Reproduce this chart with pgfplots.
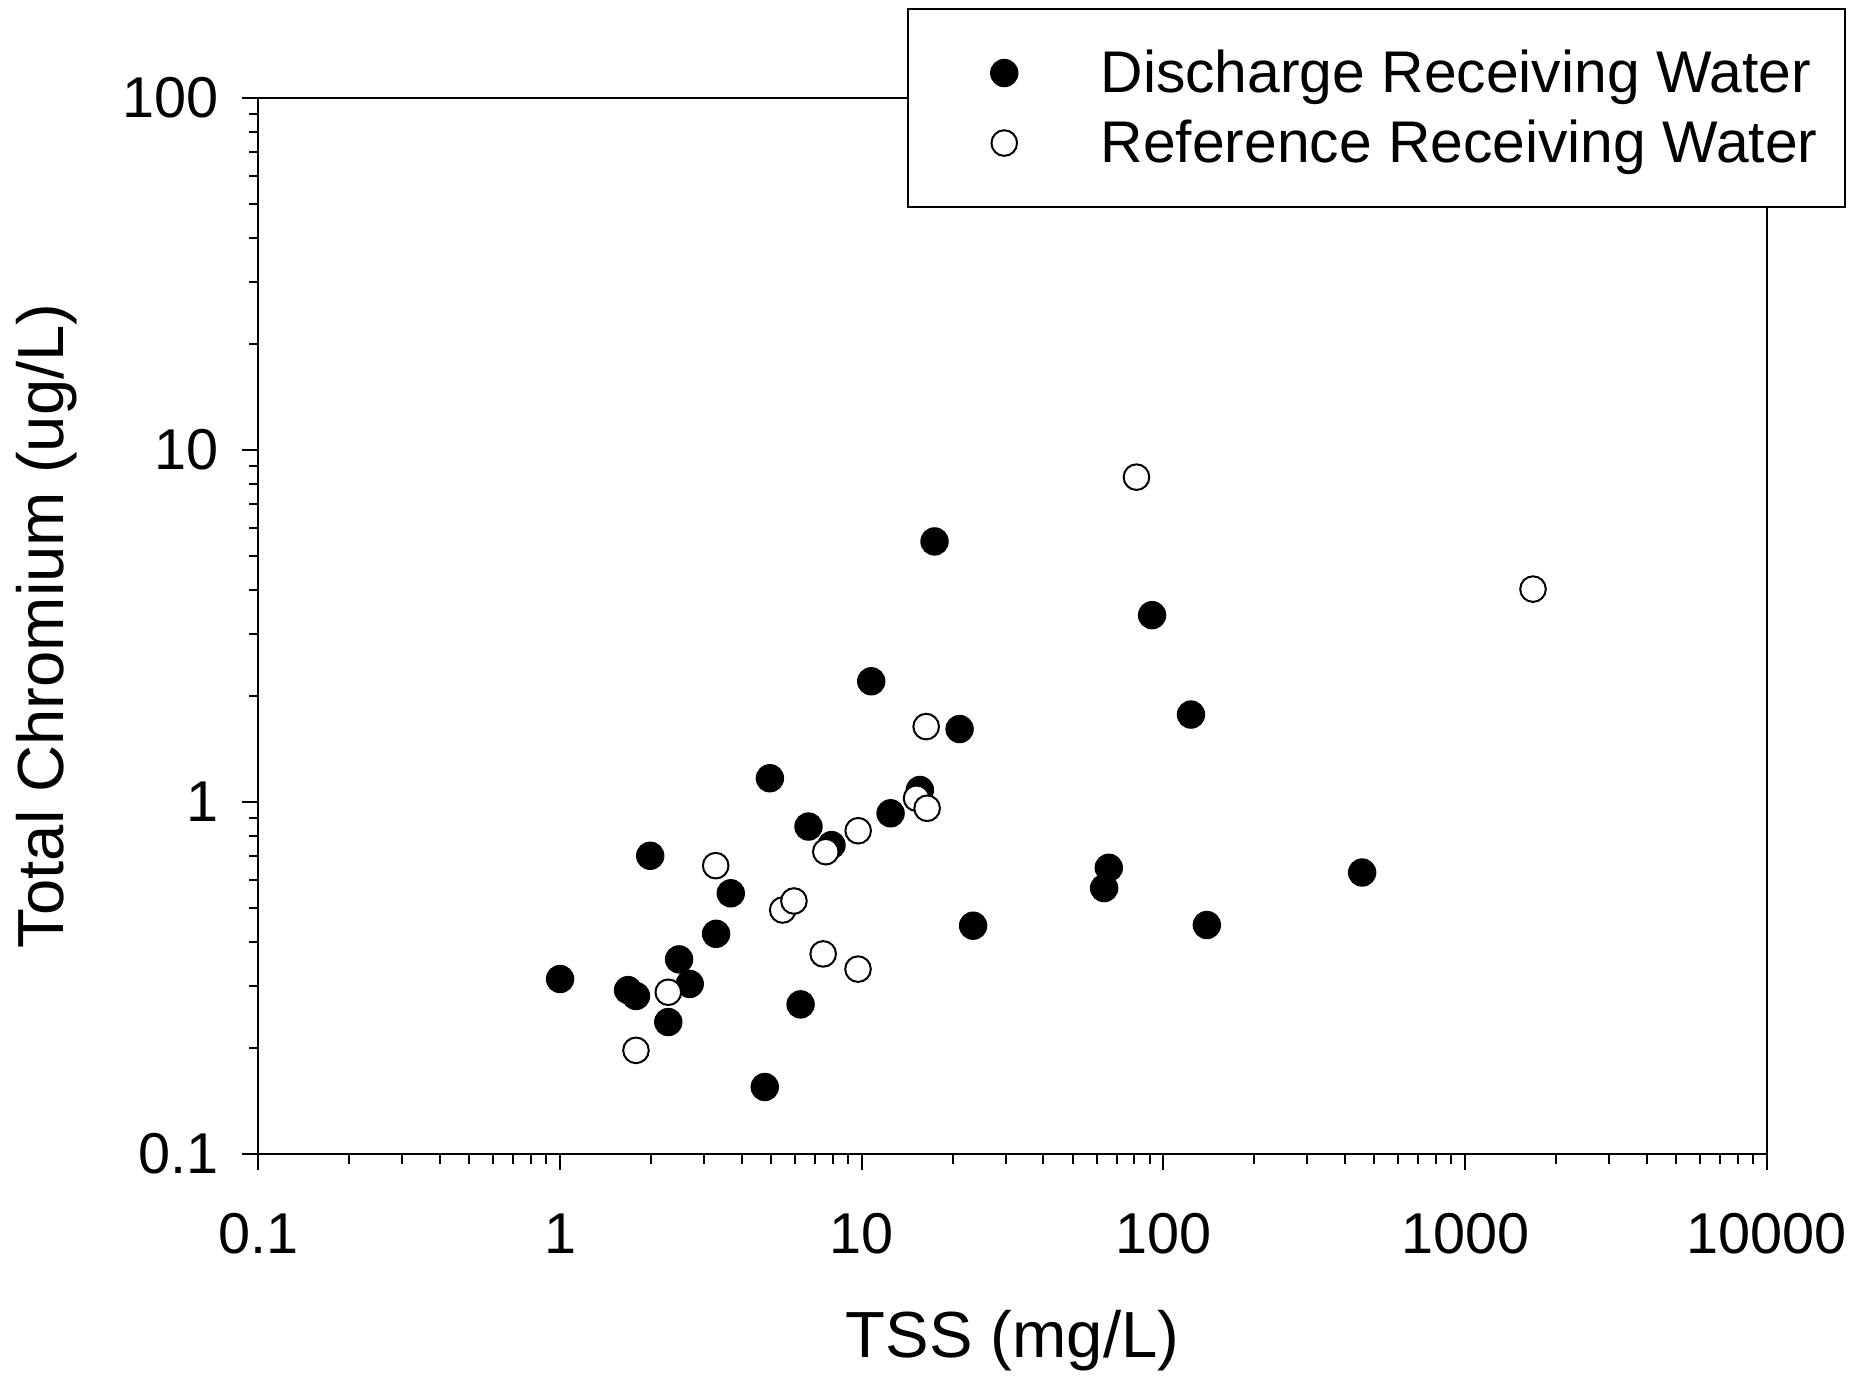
\documentclass[border=0pt]{standalone}
\usepackage{fontspec}
\setmainfont{Liberation Sans}
\usepackage{pgfplots}
\pgfplotsset{compat=1.18}
\begin{document}
\begin{tikzpicture}
\useasboundingbox (0,0) rectangle (468.5pt,345pt);
\begin{axis}[
  at={(64.6pt,56.5pt)}, anchor=south west,
  scale only axis, width=377.1pt, height=264.1pt,
  xmode=log, ymode=log,
  xmin=0.1, xmax=10000, ymin=0.1, ymax=100,
  xtick={0.1,1,10,100,1000,10000},
  xticklabels={0.1,1,10,100,1000,10000},
  ytick={0.1,1,10,100},
  yticklabels={0.1,1,10,100},
  minor xtick={0.2,0.3,0.4,0.5,0.6,0.7,0.8,0.9,2,3,4,5,6,7,8,9,20,30,40,50,60,70,80,90,200,300,400,500,600,700,800,900,2000,3000,4000,5000,6000,7000,8000,9000},
  minor ytick={0.2,0.3,0.4,0.5,0.6,0.7,0.8,0.9,2,3,4,5,6,7,8,9,20,30,40,50,60,70,80,90},
  xtick pos=left, ytick pos=left,
  tick align=outside,
  major tick length=4pt, minor tick length=2.4pt,
  axis line style={line width=0.5pt},
  every tick/.style={black, line width=0.5pt},
  /pgf/number format/assume math mode=true,
  tick label style={font=\fontsize{14.4}{17}\selectfont},
  xticklabel style={anchor=base, yshift=-21pt},
  yticklabel style={anchor=east, inner xsep=0pt, xshift=-5.8pt},
  xlabel={TSS (mg/L)},
  ylabel={Total Chromium (ug/L)},
  label style={font=\fontsize{16.3}{19}\selectfont},
  xlabel style={at={(axis description cs:0.5,-0.1922)}, anchor=base},
  ylabel style={at={(axis description cs:-0.1295,0.5)}, anchor=base, rotate=0},
  legend cell align=left,
  legend style={at={(axis description cs:0.4299,1.0844)}, anchor=north west,
    draw=black, line width=0.5pt, fill=white,
    inner xsep=6.9pt, inner ysep=9.7pt, row sep=5.1pt, column sep=20.6pt,
    font=\fontsize{14.7}{17}\selectfont,
    nodes={inner sep=0pt, text height=11pt, text depth=1.4pt, anchor=west}},
  legend image code/.code={\path[draw=none,fill=none] (-17.2pt,-6pt) rectangle (3.5pt,6pt); \draw[#1] plot coordinates {(0pt,0pt)};},
]
\addplot[only marks, mark=*, mark size=3.3pt, mark options={fill=black, draw=black, line width=0.5pt}] coordinates {
(1.0,0.314) (1.68,0.292) (1.785,0.281) (1.99,0.703) (2.284,0.237)
(2.48,0.357) (2.69,0.304) (3.29,0.422) (3.68,0.550) (4.77,0.155)
(4.96,1.167) (6.27,0.266) (6.66,0.851) (7.94,0.754) (10.75,2.20)
(12.46,0.928) (15.58,1.081) (17.43,5.49) (21.1,1.61) (23.4,0.445)
(63.6,0.569) (65.9,0.650) (91.7,3.39) (123.4,1.77) (139.3,0.447)
(455.7,0.630)
};
\addlegendentry{Discharge Receiving Water}
\addplot[only marks, mark=*, mark size=3.2pt, mark options={fill=white, draw=black, line width=0.5pt}] coordinates {
(1.785,0.197) (2.284,0.288) (3.28,0.659) (5.47,0.493) (5.96,0.523)
(7.45,0.370) (7.60,0.722) (9.73,0.828) (9.72,0.335) (15.19,1.024)
(16.35,1.636) (16.47,0.959) (81.4,8.36) (1679,4.02)
};
\addlegendentry{Reference Receiving Water}
\end{axis}
\end{tikzpicture}
\end{document}
